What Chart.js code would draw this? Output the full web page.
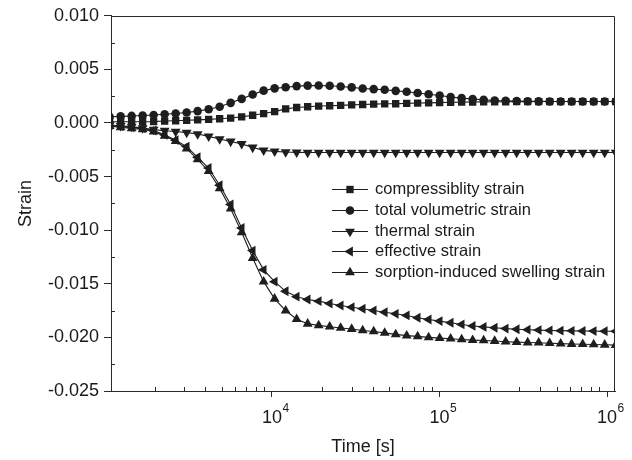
<!DOCTYPE html>
<html><head><meta charset="utf-8">
<script src="https://cdn.jsdelivr.net/npm/chart.js@4.4.1/dist/chart.umd.min.js"></script>
<style>html,body{margin:0;padding:0;background:#fff;}canvas{display:block;}</style>
</head><body>
<canvas id="c" width="632" height="460"></canvas>
<script>
// ---- data ----
const timeSeconds = [1074, 1249, 1453, 1690, 1966, 2287, 2661, 3095, 3600, 4188,
  4872, 5667, 6592, 7669, 8917, 10373, 12067, 14037, 16330, 18996,
  22098, 25706, 29903, 34786, 40466, 47074, 54760, 63701, 74040, 86130,
  100184, 116540, 135570, 157706, 183456, 213411, 248257, 288793, 335949, 390805,
  454618, 528850, 615203, 715656, 832511, 968449, 1126581];

const compressibilityStrain = [0.00012, 0.00012, 0.00012, 0.00012, 0.00013, 0.00018, 0.00021, 0.00025, 0.00029, 0.00034,
  0.0004, 0.00046, 0.00057, 0.00072, 0.00088, 0.00106, 0.00132, 0.00145, 0.00152, 0.00158,
  0.00161, 0.00164, 0.00169, 0.00173, 0.00176, 0.00179, 0.0018, 0.00183, 0.00186, 0.00188,
  0.0019, 0.00193, 0.00195, 0.00196, 0.00197, 0.00198, 0.00198, 0.00199, 0.00199, 0.002,
  0.002, 0.002, 0.002, 0.002, 0.002, 0.002, 0.002];

const totalVolumetricStrain = [0.00058, 0.00062, 0.00066, 0.0007, 0.00075, 0.00081, 0.00088, 0.00098, 0.00111, 0.00128,
  0.00152, 0.00188, 0.00225, 0.00266, 0.00302, 0.00323, 0.00334, 0.00344, 0.00349, 0.0035,
  0.00347, 0.00341, 0.00332, 0.00322, 0.00316, 0.0031, 0.003, 0.00291, 0.0028, 0.00268,
  0.00256, 0.00242, 0.00232, 0.00224, 0.00216, 0.0021, 0.00207, 0.00205, 0.00203, 0.00202,
  0.00201, 0.00201, 0.002, 0.002, 0.002, 0.002, 0.002];

const thermalStrain = [-0.0002, -0.00027, -0.00034, -0.00048, -0.00062, -0.00072, -0.0008, -0.0009, -0.00103, -0.00125,
  -0.0015, -0.00172, -0.00195, -0.00228, -0.00255, -0.00265, -0.00271, -0.00274, -0.00275, -0.00275,
  -0.00275, -0.00275, -0.00275, -0.00275, -0.00275, -0.00275, -0.00275, -0.00275, -0.00275, -0.00275,
  -0.00275, -0.00275, -0.00275, -0.00275, -0.00275, -0.00275, -0.00275, -0.00275, -0.00275, -0.00275,
  -0.00275, -0.00275, -0.00275, -0.00275, -0.00275, -0.00275, -0.00275];

const effectiveStrain = [-0.0002, -0.0003, -0.0004, -0.0005, -0.0007, -0.0011, -0.0016, -0.0022, -0.0032, -0.0042,
  -0.0058, -0.0076, -0.0098, -0.0119, -0.0137, -0.0148, -0.0157, -0.0162, -0.01647, -0.01662,
  -0.01684, -0.01702, -0.01718, -0.01733, -0.01749, -0.01765, -0.0178, -0.01795, -0.01817, -0.01833,
  -0.01848, -0.01863, -0.01879, -0.01893, -0.01902, -0.0191, -0.01918, -0.01924, -0.01928, -0.01932,
  -0.01935, -0.01937, -0.01939, -0.0194, -0.01941, -0.01942, -0.01943];

const sorptionSwellingStrain = [-0.0003, -0.0004, -0.0005, -0.0006, -0.0008, -0.0012, -0.0017, -0.0024, -0.0034, -0.0045,
  -0.0061, -0.008, -0.0102, -0.0126, -0.0148, -0.0164, -0.0175, -0.0183, -0.01873, -0.01888,
  -0.019, -0.01912, -0.01922, -0.01935, -0.01945, -0.01958, -0.01972, -0.01983, -0.0199, -0.02,
  -0.02007, -0.02012, -0.02019, -0.02025, -0.02029, -0.02034, -0.0204, -0.02044, -0.02048, -0.0205,
  -0.02054, -0.02058, -0.02062, -0.02064, -0.02066, -0.02069, -0.02072];

const seriesNames = ['compressiblity strain', 'total volumetric strain', 'thermal strain',
  'effective strain', 'sorption-induced swelling strain'];

const xMajorTicks = [1e4, 1e5, 1e6];
const xMajorBase = '10';
const xMajorExponents = ['4', '5', '6'];
const xMinorTicks = [2000, 3000, 4000, 5000, 6000, 7000, 8000, 9000,
  20000, 30000, 40000, 50000, 60000, 70000, 80000, 90000,
  200000, 300000, 400000, 500000, 600000, 700000, 800000, 900000];
const yMajorTicks = [-0.025, -0.020, -0.015, -0.010, -0.005, 0.000, 0.005, 0.010];
const yMajorLabels = ['-0.025', '-0.020', '-0.015', '-0.010', '-0.005', '0.000', '0.005', '0.010'];
const yMinorTicks = [-0.0225, -0.0175, -0.0125, -0.0075, -0.0025, 0.0025, 0.0075];

// ---- styling ----
const INK = '#1e1e1e';
const AXIS = '#2a2a2a';
const TEXT = '#1a1a1a';
const FONT = '"Liberation Sans", Arial, Helvetica, sans-serif';

function pts(vals) { return timeSeconds.map((t, i) => ({x: t, y: vals[i]})); }
function ds(label, vals, style, radius, rotation) {
  return {
    label, data: pts(vals),
    borderColor: INK, borderWidth: 1.1, backgroundColor: INK,
    pointStyle: style, pointRadius: radius, pointRotation: rotation || 0,
    pointBackgroundColor: INK, pointBorderColor: INK, pointBorderWidth: 0,
    pointHoverRadius: radius, tension: 0, fill: false
  };
}

const datasets = [
  ds(seriesNames[0], compressibilityStrain, 'rect', 5.2),
  ds(seriesNames[1], totalVolumetricStrain, 'circle', 4.3),
  ds(seriesNames[2], thermalStrain, 'triangle', 5.7, 180),
  ds(seriesNames[3], effectiveStrain, 'triangle', 5.7, 270),
  ds(seriesNames[4], sorptionSwellingStrain, 'triangle', 5.7, 0)
];

const decorPlugin = {
  id: 'decor',
  afterDraw(chart) {
    const {ctx, chartArea: a, scales: {x, y}} = chart;
    ctx.save();
    ctx.strokeStyle = AXIS;
    ctx.lineWidth = 1;
    // top and right frame
    ctx.beginPath();
    const top = Math.round(a.top) + 0.5, right = Math.round(a.right) - 0.5;
    ctx.moveTo(a.left, top); ctx.lineTo(right, top); ctx.lineTo(right, a.bottom);
    ctx.stroke();
    // minor ticks (inside)
    ctx.beginPath();
    xMinorTicks.forEach(v => {
      const px = Math.round(x.getPixelForValue(v)) + 0.5;
      ctx.moveTo(px, a.bottom); ctx.lineTo(px, a.bottom - 4);
    });
    yMinorTicks.forEach(v => {
      const py = Math.round(y.getPixelForValue(v)) + 0.5;
      ctx.moveTo(a.left, py); ctx.lineTo(a.left + 4, py);
    });
    ctx.stroke();
    // x tick labels with superscript exponent
    ctx.fillStyle = TEXT;
    ctx.textBaseline = 'alphabetic';
    xMajorTicks.forEach((v, i) => {
      const px = x.getPixelForValue(v);
      ctx.font = '18px ' + FONT;
      ctx.textAlign = 'center';
      const w = ctx.measureText(xMajorBase).width;
      ctx.fillText(xMajorBase, px, a.bottom + 32);
      ctx.font = '12px ' + FONT;
      ctx.textAlign = 'left';
      ctx.fillText(xMajorExponents[i], px + w / 2 + 0.5, a.bottom + 21);
    });
    // legend
    const lx0 = 332, lx1 = 368, tx = 375, ly0 = 189, dy = 20.8;
    ctx.font = '16.5px ' + FONT;
    ctx.textBaseline = 'middle';
    ctx.textAlign = 'left';
    chart.data.datasets.forEach((d, i) => {
      const ly = Math.round(ly0 + dy * i) + 0.5;
      ctx.strokeStyle = INK; ctx.lineWidth = 1.1;
      ctx.beginPath(); ctx.moveTo(lx0, ly); ctx.lineTo(lx1, ly); ctx.stroke();
      ctx.fillStyle = INK;
      Chart.helpers.drawPoint(ctx, {pointStyle: d.pointStyle, rotation: d.pointRotation,
        radius: d.pointRadius, borderWidth: 0}, (lx0 + lx1) / 2, ly);
      ctx.fillStyle = TEXT;
      ctx.fillText(d.label, tx, ly);
    });
    ctx.restore();
  }
};

new Chart(document.getElementById('c'), {
  type: 'line',
  data: {datasets},
  options: {
    responsive: false,
    animation: false,
    events: [],
    layout: {padding: {top: 15, right: 17, left: 0, bottom: 0}},
    plugins: {legend: {display: false}, tooltip: {enabled: false}},
    scales: {
      x: {
        type: 'logarithmic',
        min: 1094, max: 1116000,
        afterBuildTicks(s) { s.ticks = xMajorTicks.map(v => ({value: v})); },
        afterFit(s) { s.height = 69; },
        ticks: {
          autoSkip: false, maxRotation: 0, padding: 6, color: TEXT,
          font: {family: FONT, size: 18},
          callback() { return ''; }
        },
        grid: {drawOnChartArea: false, drawTicks: true, tickLength: 6, color: AXIS, tickColor: AXIS},
        border: {display: true, color: AXIS, width: 1},
        title: {display: true, text: 'Time [s]', color: TEXT,
          font: {family: FONT, size: 18}, padding: {top: 0, bottom: 2}}
      },
      y: {
        type: 'linear',
        min: -0.025, max: 0.010,
        afterBuildTicks(s) { s.ticks = yMajorTicks.map(v => ({value: v})); },
        afterFit(s) { s.width = 111; },
        ticks: {
          autoSkip: false, padding: 5, color: TEXT,
          font: {family: FONT, size: 18},
          callback(v) { const i = yMajorTicks.findIndex(t => Math.abs(t - v) < 1e-9); return i >= 0 ? yMajorLabels[i] : ''; }
        },
        grid: {drawOnChartArea: false, drawTicks: true, tickLength: 7, color: AXIS, tickColor: AXIS},
        border: {display: true, color: AXIS, width: 1},
        title: {display: true, text: 'Strain', color: TEXT,
          font: {family: FONT, size: 18}, padding: {top: 15, bottom: 0}}
      }
    }
  },
  plugins: [decorPlugin]
});
</script>
</body></html>
